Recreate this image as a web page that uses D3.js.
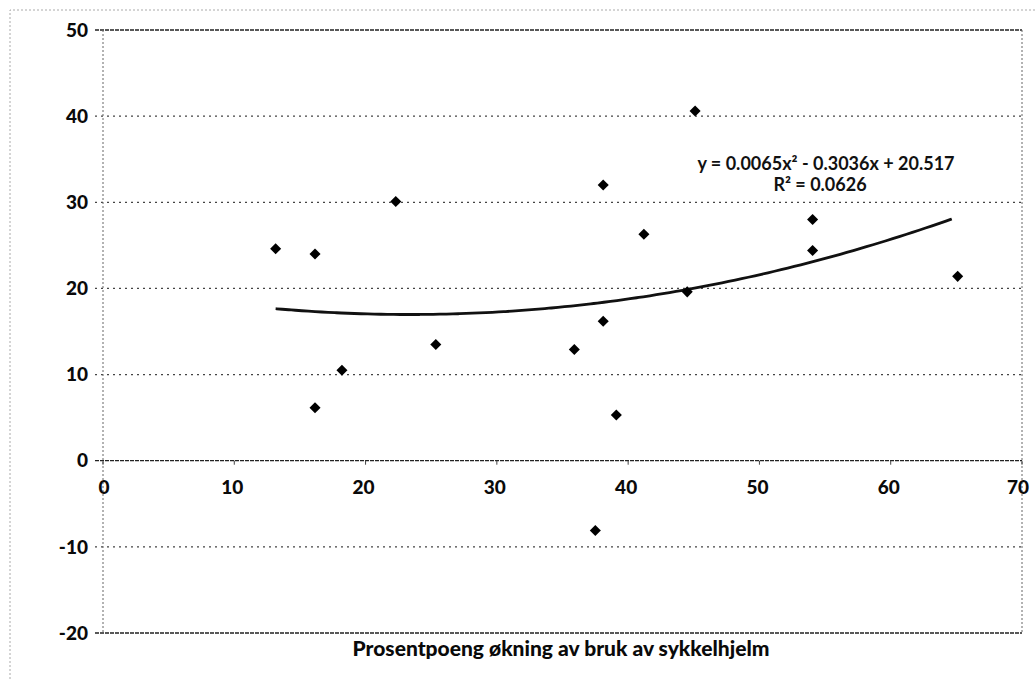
<!DOCTYPE html>
<html lang="no">
<head>
<meta charset="UTF-8">
<title>Prosentpoeng økning av bruk av sykkelhjelm</title>
<script src="https://cdnjs.cloudflare.com/ajax/libs/d3/7.8.5/d3.min.js"></script>
<style>
    body { margin: 0; background: #fff; }
    svg { display: block; font-family: Lato, "Open Sans", sans-serif; }
    .tick-label { font-weight: 900; font-size: 19px; fill: #0a0a0a; }
    .grid { stroke: #444; stroke-width: 1.2; stroke-dasharray: 2,4; }
    .edge { stroke: #222; stroke-width: 1.3; stroke-dasharray: 4,1; }
    .side { stroke: #666; stroke-width: 1; stroke-dasharray: 2,2; }
    .frame { stroke: #aaa; stroke-width: 1; stroke-dasharray: 2,2; fill: none; }
</style>
</head>
<body>
<svg id="chart" width="1035" height="679"></svg>
<script>
    // points
    const xVals = [13.15, 16.15, 16.15, 18.2, 22.3, 25.35, 35.9, 37.5, 38.1, 38.1, 39.1, 41.2, 44.5, 45.1, 54.05, 54.05, 65.1];
    const yVals = [24.6, 24.0, 6.15, 10.5, 30.1, 13.5, 12.9, -8.1, 32.0, 16.2, 5.3, 26.3, 19.6, 40.6, 28.0, 24.4, 21.4];
    // polynomial trendline coefficients (from the label)
    const trendCoef = [20.517, -0.3036, 0.0065];
    const xTicks = [0, 10, 20, 30, 40, 50, 60, 70];
    const yTicks = [-20, -10, 0, 10, 20, 30, 40, 50];
    const eqLines = ["y = 0.0065x² - 0.3036x + 20.517", "R² = 0.0626"];
    const xTitle = "Prosentpoeng økning av bruk av sykkelhjelm";

    const svg = d3.select("#chart");
    const plotL = 103, plotR = 1022, plotT = 30, plotB = 633;

    const x = d3.scaleLinear().domain([0, 70]).range([plotL, plotR]);
    const y = d3.scaleLinear().domain([-20, 50]).range([plotB, plotT]);

    // outer chart frame
    svg.append("path").attr("class", "frame")
        .attr("d", `M10,679 L10,10 L1035,10`);

    // horizontal gridlines
    svg.selectAll("line.h").data(yTicks).enter().append("line")
        .attr("class", d => (d === 50 || d === -20 || d === 0) ? "edge" : "grid")
        .attr("x1", plotL - 8).attr("x2", plotR)
        .attr("y1", d => y(d)).attr("y2", d => y(d));

    // plot area sides
    svg.append("line").attr("class", "side")
        .attr("x1", x(0)).attr("x2", x(0)).attr("y1", plotT).attr("y2", plotB);
    svg.append("line").attr("class", "side")
        .attr("x1", x(70)).attr("x2", x(70)).attr("y1", plotT).attr("y2", plotB);

    // x tick marks on the zero line
    svg.selectAll("line.xt").data(xTicks).enter().append("line")
        .attr("stroke", "#444").attr("stroke-width", 1)
        .attr("x1", d => x(d)).attr("x2", d => x(d))
        .attr("y1", y(0)).attr("y2", y(0) + 4);

    // y tick labels
    svg.selectAll("text.yl").data(yTicks).enter().append("text")
        .attr("class", "tick-label")
        .attr("x", plotL - 15).attr("y", d => y(d))
        .attr("dy", "0.35em")
        .attr("text-anchor", "end")
        .text(d => d);

    // x tick labels
    svg.selectAll("text.xl").data(xTicks).enter().append("text")
        .attr("class", "tick-label")
        .attr("x", d => x(d) + (d === 0 ? 1 : d === 70 ? -4 : -2))
        .attr("y", y(0) + 33)
        .attr("text-anchor", "middle")
        .text(d => d);

    // trendline
    const xs = d3.range(d3.min(xVals), d3.max(xVals) + 0.01, 0.5);
    const trend = xs.map(v => [v, trendCoef[0] + trendCoef[1] * v + trendCoef[2] * v * v]);
    svg.append("path")
        .datum(trend)
        .attr("fill", "none")
        .attr("stroke", "#111")
        .attr("stroke-width", 2.8)
        .attr("d", d3.line().x(d => x(d[0])).y(d => y(d[1])).curve(d3.curveBasis));

    // points
    const diamond = d3.symbolDiamond2 || d3.symbolDiamond;
    const sym = d3.symbol().type(diamond).size(d3.symbolDiamond2 ? 78 : 64);
    svg.selectAll("path.pt").data(xVals).enter().append("path")
        .attr("fill", "#000")
        .attr("d", sym)
        .attr("transform", (d, i) => `translate(${x(d)},${y(yVals[i])})`);

    // equation label
    svg.selectAll("text.eq").data(eqLines).enter().append("text")
        .attr("x", (d, i) => i === 0 ? 826 : 820)
        .attr("y", (d, i) => 170 + i * 21)
        .attr("text-anchor", "middle")
        .attr("font-size", "18px")
        .attr("font-weight", "bold")
        .attr("fill", "#111")
        .text(d => d);

    // x axis title
    svg.append("text")
        .attr("x", 561).attr("y", 656)
        .attr("text-anchor", "middle")
        .attr("font-size", "21px")
        .attr("font-weight", "900")
        .attr("fill", "#0a0a0a")
        .text(xTitle);
</script>
</body>
</html>
